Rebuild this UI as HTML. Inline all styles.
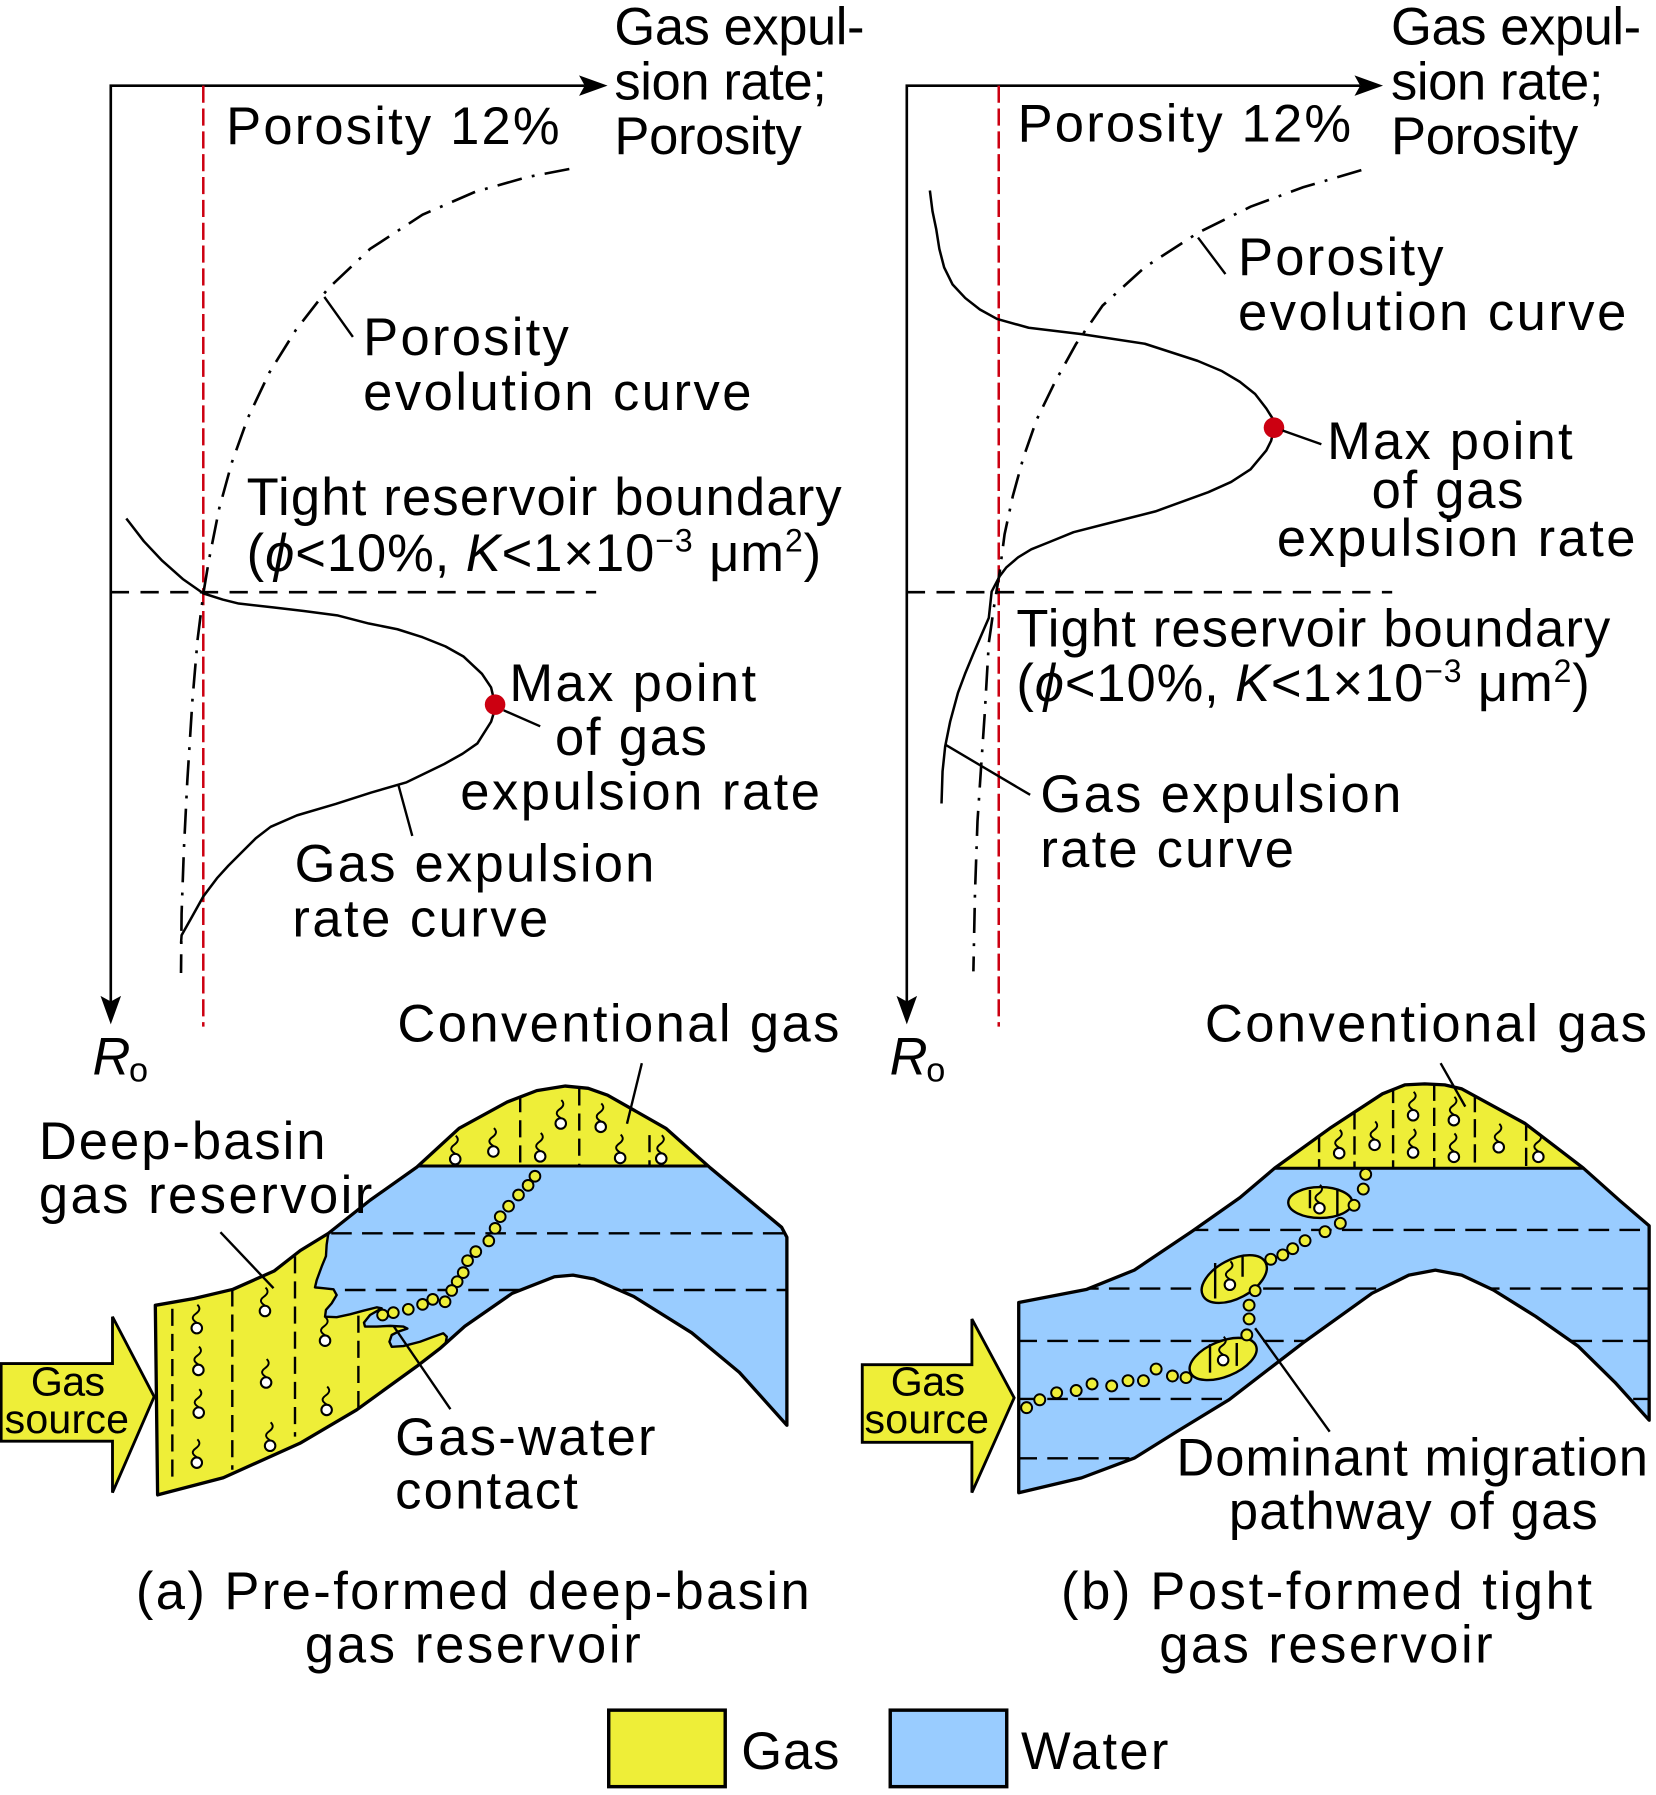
<!DOCTYPE html>
<html><head><meta charset="utf-8"><style>
html,body{margin:0;padding:0;background:#fff;}
svg{display:block;font-family:"Liberation Sans","DejaVu Sans",sans-serif;}
</style></head><body>
<svg width="1656" height="1795" viewBox="0 0 1450 1571.8" preserveAspectRatio="none" xmlns="http://www.w3.org/2000/svg" font-size="46" fill="#000">
<defs>
<clipPath id="ca"><path d="M136,1143 L170,1137 L204,1129 L240,1113 L263,1095 L287.5,1080 L324,1051 L365,1022 L402,988 L444,965 L470,955 L495,951 L515,953 L532,959 L583,988 L622,1022.7 L684.4,1074.7 L689,1083.4 L689,1248 L647.4,1201.7 L605.7,1167.1 L554.9,1135.3 L520,1120 L501.7,1116.6 L485.5,1118 L448.5,1132.5 L407,1161.3 L385,1181 L364.7,1196.6 L312.2,1234.6 L262.6,1263.8 L195.5,1294 L138,1309 Z"/></clipPath>
<clipPath id="cb"><path d="M892,1140.5 L951.6,1129 L993.2,1112.2 L1044,1078 L1085.7,1048.7 L1116,1023 L1164.3,988.1 L1210.5,957.8 L1230,950 L1247.5,949.1 L1265,950 L1280,953.5 L1335.4,983.8 L1386.2,1022.7 L1418.6,1051.6 L1444,1073.3 L1444,1243.6 L1414,1210.4 L1381.6,1178.6 L1344.6,1152.7 L1307.6,1129.6 L1279.9,1116.6 L1256.8,1112.2 L1233.6,1116.6 L1201.3,1132.5 L1141,1175.8 L1076.4,1225.5 L1030.2,1253.7 L993.2,1276.8 L947,1294.1 L892,1307.1 Z"/></clipPath>
<g id="sym"><path d="M0,-4.8 C-4.5,-7.5 -4.5,-10 -1,-12.5 C2.5,-15 3.5,-17.5 0.5,-20.5" fill="none" stroke="#000" stroke-width="1.7"/><circle r="4.6" fill="#fff" stroke="#000" stroke-width="1.8"/></g>
</defs>

<!-- ===== Panel (a) graph ===== -->
<path d="M97,877 V75 H512" fill="none" stroke="#000" stroke-width="2.3"/>
<polygon points="532,75 507,66 512,75 507,84" fill="#000"/>
<polygon points="97,897 88,872 97,877 106,872" fill="#000"/>
<line x1="178" y1="75" x2="178" y2="899" stroke="#CC0011" stroke-width="2.2" stroke-dasharray="15,5"/>
<line x1="97" y1="518.5" x2="522" y2="518.5" stroke="#000" stroke-width="2.3" stroke-dasharray="16,10"/>
<polyline fill="none" stroke="#000" stroke-width="2.3" stroke-dasharray="22,9,2.5,9" points="498.5,148 462,155 416,168 370,188 324,218 287,253 259,289 236,326 217,366 203,405 192,445 183,490 178,520 173,560 168.5,613 164,684 161,744 159,800 158.5,852"/>
<polyline fill="none" stroke="#000" stroke-width="2.2" stroke-linejoin="round" points="110.6,454 126,474 142,491 160,507 178,519.6 195,525 209,528.5 240,532 266,535 296,539 323,546 348,551 370,558 390,566 406,575 422,590 430,602 434,619 430,632 418,651 405,660 389,669 356,685 325,694 294,704 260,714 237,724 224,734 214,744 200,758 190,769 178,785 168,803 159,819 158.5,826"/>
<circle cx="433.5" cy="617" r="9" fill="#CC0011"/>
<g stroke="#000" stroke-width="2.1" fill="none">
<line x1="284" y1="260" x2="309" y2="295"/>
<line x1="441" y1="622" x2="473" y2="636"/>
<line x1="349" y1="688" x2="361" y2="732"/>
</g>

<!-- ===== Panel (b) graph ===== -->
<path d="M794,877 V75 H1191" fill="none" stroke="#000" stroke-width="2.3"/>
<polygon points="1211,75 1186,66 1191,75 1186,84" fill="#000"/>
<polygon points="794,897 785,872 794,877 803,872" fill="#000"/>
<line x1="874.5" y1="75" x2="874.5" y2="899" stroke="#CC0011" stroke-width="2.2" stroke-dasharray="15,5"/>
<line x1="794" y1="518.5" x2="1219" y2="518.5" stroke="#000" stroke-width="2.3" stroke-dasharray="16,10"/>
<polyline fill="none" stroke="#000" stroke-width="2.3" stroke-dasharray="22,9,2.5,9" points="1192,149 1141,164 1095,181 1048.7,204 1002.4,234 965.4,267.6 942.3,301 923.8,334.4 907.6,367.7 896,401 886.8,434.5 879.6,467.9 875.3,501 870.3,531.6 865.8,563 862.2,625.4 859,672.3 855.9,719.2 853.7,781.8 852.3,850.6"/>
<polyline fill="none" stroke="#000" stroke-width="2.2" stroke-linejoin="round" points="814.2,166.8 816.5,185 819.8,200.9 822.5,218 826.7,234.2 834,249 845.2,261 858,271 873,279.3 900.7,287 947,292.6 1002.4,301 1048.7,316 1070,325 1085.7,334.4 1099,345 1108.8,357.7 1114,366 1115.7,374.4 1113,386 1108.8,394.4 1095,411 1078,422 1058,431 1011.7,447.8 965.4,459.5 940,466 919.2,474.5 903,481 891.5,488 881,497 875.3,504.6 868.3,518 865.8,541 852.3,572.3 845,590 838.8,606.7 832,631.7 827.6,653.6 825.3,675.5 824.4,703.6"/>
<circle cx="1115.5" cy="374.5" r="9" fill="#CC0011"/>
<g stroke="#000" stroke-width="2.1" fill="none">
<line x1="1049" y1="208" x2="1073" y2="240"/>
<line x1="1123" y1="377" x2="1157" y2="389"/>
<line x1="827.6" y1="652" x2="902" y2="696"/>
</g>

<!-- ===== Panel (a) section ===== -->
<path d="M1,1194 H98.5 V1153 L135,1223 L98.5,1307 V1262 H1 Z" fill="#EEEE38" stroke="#000" stroke-width="2.5" stroke-linejoin="miter"/>
<g clip-path="url(#ca)">
<rect x="100" y="900" width="620" height="450" fill="#EEEE38"/>
<path d="M280,1021 L700,1021 L700,1320 L400,1320 L389.7,1179.3 L391.2,1170.5 L388.2,1167.5 L379.5,1170.5 L367.8,1174.9 L353.2,1178.7 L343,1179.3 L341,1174.9 L343,1169 L348.8,1166 L356.7,1163.4 L353.2,1161.6 L341.5,1161 L329.8,1161.6 L319.6,1161.6 L318.7,1158.2 L324,1151.5 L334.2,1145.6 L329.8,1144.8 L318.2,1147.7 L306.5,1150.9 L294.8,1153.4 L284.6,1153 L285.4,1147 L290.4,1141.3 L294.8,1134 L292,1129 L283,1128 L275.8,1127.3 L277.3,1121 L281.7,1109 L285.4,1100 L286,1090 L287.5,1080 L280,1060 Z" fill="#99CCFF"/>
<path d="M287.5,1080 L286,1090 L285.4,1100 L281.7,1109 L277.3,1121 L275.8,1127.3 L283,1128 L292,1129 L294.8,1134 L290.4,1141.3 L285.4,1147 L284.6,1153 L294.8,1153.4 L306.5,1150.9 L318.2,1147.7 L329.8,1144.8 L334.2,1145.6 L324,1151.5 L318.7,1158.2 L319.6,1161.6 L329.8,1161.6 L341.5,1161 L353.2,1161.6 L356.7,1163.4 L348.8,1166 L343,1169 L341,1174.9 L343,1179.3 L353.2,1178.7 L367.8,1174.9 L379.5,1170.5 L388.2,1167.5 L391.2,1170.5 L389.7,1179.3" fill="none" stroke="#000" stroke-width="2.1" stroke-linejoin="round"/>
<g stroke="#000" stroke-width="2.1" fill="none" stroke-dasharray="18,9">
<path d="M290,1080 H700"/>
<path d="M302,1129.6 H700"/>
</g>
<g stroke="#000" stroke-width="2.1" fill="none" stroke-dasharray="15,7">
<path d="M150.9,1146 V1297"/>
<path d="M203.4,1129 V1287"/>
<path d="M258.3,1100 V1258"/>
<path d="M313.8,1152 V1234"/>
<path d="M455.5,959 V1021"/>
<path d="M507.2,953 V1021"/>
<path d="M568.7,994 V1021"/>
</g>
<line x1="360" y1="1021" x2="630" y2="1021" stroke="#000" stroke-width="2.6"/>
</g>
<path d="M136,1143 L170,1137 L204,1129 L240,1113 L263,1095 L287.5,1080 L324,1051 L365,1022 L402,988 L444,965 L470,955 L495,951 L515,953 L532,959 L583,988 L622,1022.7 L684.4,1074.7 L689,1083.4 L689,1248 L647.4,1201.7 L605.7,1167.1 L554.9,1135.3 L520,1120 L501.7,1116.6 L485.5,1118 L448.5,1132.5 L407,1161.3 L385,1181 L364.7,1196.6 L312.2,1234.6 L262.6,1263.8 L195.5,1294 L138,1309 Z" fill="none" stroke="#000" stroke-width="2.9" stroke-linejoin="round"/>
<g>
<use href="#sym" x="172.3" y="1163"/><use href="#sym" x="232" y="1148"/><use href="#sym" x="284.6" y="1174"/>
<use href="#sym" x="173.7" y="1199.6"/><use href="#sym" x="233" y="1210.6"/><use href="#sym" x="174" y="1237"/>
<use href="#sym" x="286" y="1234.6"/><use href="#sym" x="236.5" y="1266"/><use href="#sym" x="172.3" y="1280.8"/>
<use href="#sym" x="398.6" y="1015"/><use href="#sym" x="432" y="1008.3"/><use href="#sym" x="473" y="1012.6"/>
<use href="#sym" x="491" y="983.8"/><use href="#sym" x="526" y="986.7"/><use href="#sym" x="543" y="1014"/><use href="#sym" x="579" y="1014.5"/>
</g>
<g fill="#EEEE38" stroke="#000" stroke-width="1.7">
<circle cx="468.4" cy="1030" r="4.7"/><circle cx="462.4" cy="1038" r="4.7"/><circle cx="454" cy="1046.4" r="4.7"/>
<circle cx="445.3" cy="1056.2" r="4.7"/><circle cx="438" cy="1065.4" r="4.7"/><circle cx="433.5" cy="1075.6" r="4.7"/>
<circle cx="428" cy="1086.6" r="4.7"/><circle cx="416.6" cy="1096" r="4.7"/><circle cx="409.4" cy="1103.9" r="4.7"/>
<circle cx="405.6" cy="1114.4" r="4.7"/><circle cx="400.3" cy="1122.3" r="4.7"/><circle cx="395.5" cy="1130" r="4.7"/>
<circle cx="389.7" cy="1139.9" r="4.7"/><circle cx="378.9" cy="1137.8" r="4.7"/><circle cx="370" cy="1142.2" r="4.7"/>
<circle cx="357.5" cy="1146.5" r="4.7"/><circle cx="344.4" cy="1149.4" r="4.7"/><circle cx="335" cy="1151.5" r="4.7"/>
</g>
<g stroke="#000" stroke-width="2.1" fill="none">
<line x1="562" y1="931" x2="549" y2="984"/>
<line x1="193" y1="1079" x2="239.5" y2="1128"/>
<line x1="344.5" y1="1161" x2="394.4" y2="1234"/>
</g>

<!-- ===== Panel (b) section ===== -->
<path d="M755,1195 H851 V1155 L888,1224 L851,1307 V1263 H755 Z" fill="#EEEE38" stroke="#000" stroke-width="2.5"/>
<g clip-path="url(#cb)">
<rect x="880" y="900" width="580" height="420" fill="#99CCFF"/>
<rect x="1090" y="900" width="370" height="123" fill="#EEEE38"/>
<g stroke="#000" stroke-width="2.1" fill="none" stroke-dasharray="18,9">
<path d="M1040,1077 H1450"/>
<path d="M890,1128.3 H1450"/>
<path d="M890,1174.2 H1450"/>
<path d="M890,1225 H1450"/>
<path d="M890,1277 H1450"/>
</g>
<g stroke="#000" stroke-width="2.1" fill="none" stroke-dasharray="16,6">
<path d="M1155,993 V1023"/>
<path d="M1186,973 V1023"/>
<path d="M1219.8,950 V1023"/>
<path d="M1255.8,948 V1023"/>
<path d="M1291.4,958 V1023"/>
<path d="M1336.3,983 V1023"/>
</g>
<line x1="1100" y1="1023" x2="1400" y2="1023" stroke="#000" stroke-width="2.6"/>
</g>
<path d="M892,1140.5 L951.6,1129 L993.2,1112.2 L1044,1078 L1085.7,1048.7 L1116,1023 L1164.3,988.1 L1210.5,957.8 L1230,950 L1247.5,949.1 L1265,950 L1280,953.5 L1335.4,983.8 L1386.2,1022.7 L1418.6,1051.6 L1444,1073.3 L1444,1243.6 L1414,1210.4 L1381.6,1178.6 L1344.6,1152.7 L1307.6,1129.6 L1279.9,1116.6 L1256.8,1112.2 L1233.6,1116.6 L1201.3,1132.5 L1141,1175.8 L1076.4,1225.5 L1030.2,1253.7 L993.2,1276.8 L947,1294.1 L892,1307.1 Z" fill="none" stroke="#000" stroke-width="2.9" stroke-linejoin="round"/>
<!-- pods -->
<g fill="#EEEE38" stroke="#000" stroke-width="2.1">
<ellipse cx="1156" cy="1053" rx="28" ry="13.5"/>
<ellipse cx="1080.7" cy="1120" rx="31" ry="17" transform="rotate(-28 1080.7 1120)"/>
<ellipse cx="1071" cy="1190" rx="31" ry="15.5" transform="rotate(-22 1071 1190)"/>
</g>
<path d="M1147,1042 V1058 M1171,1042 V1064 M1064,1106 V1137 M1088,1100 V1118 M1059.5,1177 V1202 M1082.9,1176 V1196" stroke="#000" stroke-width="2.1" fill="none"/>
<g>
<use href="#sym" x="1155.3" y="1058"/><use href="#sym" x="1076.9" y="1125"/><use href="#sym" x="1071" y="1191"/>
<use href="#sym" x="1172.6" y="1009.8"/><use href="#sym" x="1203.6" y="1002.5"/><use href="#sym" x="1237.3" y="976.6"/>
<use href="#sym" x="1237.3" y="1009.2"/><use href="#sym" x="1273" y="980.9"/><use href="#sym" x="1273" y="1013"/>
<use href="#sym" x="1312.3" y="1004.6"/><use href="#sym" x="1347" y="1013"/>
</g>
<g fill="#EEEE38" stroke="#000" stroke-width="1.7">
<circle cx="1195.8" cy="1028.3" r="4.8"/><circle cx="1193.7" cy="1041.2" r="4.8"/><circle cx="1185.6" cy="1055.4" r="4.8"/>
<circle cx="1173.6" cy="1071.2" r="4.8"/><circle cx="1160.2" cy="1078.5" r="4.8"/><circle cx="1142.7" cy="1086.4" r="4.8"/>
<circle cx="1131.9" cy="1093.4" r="4.8"/><circle cx="1123.2" cy="1098.9" r="4.8"/><circle cx="1112.7" cy="1102.7" r="4.8"/>
<circle cx="1099" cy="1130.2" r="4.8"/><circle cx="1093.7" cy="1142.9" r="4.8"/><circle cx="1093.7" cy="1154.9" r="4.8"/>
<circle cx="1091.7" cy="1168.9" r="4.8"/>
<circle cx="1038.5" cy="1206.3" r="4.8"/><circle cx="1026.6" cy="1204.9" r="4.8"/><circle cx="1012.3" cy="1198.8" r="4.8"/>
<circle cx="1001.2" cy="1209" r="4.8"/><circle cx="987.7" cy="1209" r="4.8"/><circle cx="973.4" cy="1213.6" r="4.8"/>
<circle cx="956.2" cy="1211.9" r="4.8"/><circle cx="942.3" cy="1217.6" r="4.8"/><circle cx="925.2" cy="1219.6" r="4.8"/>
<circle cx="910.4" cy="1225.7" r="4.8"/><circle cx="898.9" cy="1232.6" r="4.8"/>
</g>
<g stroke="#000" stroke-width="2.1" fill="none">
<line x1="1261.4" y1="931" x2="1283" y2="969"/>
<line x1="1099" y1="1163" x2="1164.3" y2="1253.7"/>
</g>

<!-- Legend -->
<rect x="533" y="1497.5" width="102" height="67" fill="#EEEE38" stroke="#000" stroke-width="3"/>
<rect x="779.5" y="1497.5" width="102" height="67" fill="#99CCFF" stroke="#000" stroke-width="3"/>

<!-- ===== Text (a) ===== -->
<text x="538" y="39" textLength="219" lengthAdjust="spacing">Gas expul-</text>
<text x="538" y="87" textLength="186" lengthAdjust="spacing">sion rate;</text>
<text x="538" y="135" textLength="164" lengthAdjust="spacing">Porosity</text>
<text x="198" y="126" textLength="292" lengthAdjust="spacing">Porosity 12%</text>
<text x="318" y="311" textLength="180" lengthAdjust="spacing">Porosity</text>
<text x="318" y="359" textLength="340" lengthAdjust="spacing">evolution curve</text>
<text x="216" y="451" textLength="521" lengthAdjust="spacing">Tight reservoir boundary</text>
<text x="216" y="500" textLength="503" lengthAdjust="spacing">(<tspan font-style="italic">ϕ</tspan>&lt;10%, <tspan font-style="italic">K</tspan>&lt;1×10<tspan dy="-17" font-size="28">−3</tspan><tspan dy="17"> μm</tspan><tspan dy="-17" font-size="28">2</tspan><tspan dy="17">)</tspan></text>
<text x="446" y="614" textLength="216" lengthAdjust="spacing">Max point</text>
<text x="486" y="661" textLength="133" lengthAdjust="spacing">of gas</text>
<text x="403" y="709" textLength="315" lengthAdjust="spacing">expulsion rate</text>
<text x="258" y="772" textLength="315" lengthAdjust="spacing">Gas expulsion</text>
<text x="256" y="820" textLength="224" lengthAdjust="spacing">rate curve</text>
<text x="81" y="941" font-style="italic">R</text>
<text x="113" y="947" font-size="30">o</text>
<text x="348" y="912" textLength="387" lengthAdjust="spacing">Conventional gas</text>
<text x="34" y="1015" textLength="251" lengthAdjust="spacing">Deep-basin</text>
<text x="34" y="1062" textLength="292" lengthAdjust="spacing">gas reservoir</text>
<text x="346" y="1274" textLength="228" lengthAdjust="spacing">Gas-water</text>
<text x="346" y="1321" textLength="160" lengthAdjust="spacing">contact</text>
<text x="27" y="1222" font-size="36" textLength="65" lengthAdjust="spacing">Gas</text>
<text x="4" y="1255" font-size="36" textLength="109" lengthAdjust="spacing">source</text>
<text x="119" y="1409" textLength="590" lengthAdjust="spacing">(a) Pre-formed deep-basin</text>
<text x="267" y="1456" textLength="294" lengthAdjust="spacing">gas reservoir</text>

<!-- ===== Text (b) ===== -->
<text x="1218" y="39" textLength="219" lengthAdjust="spacing">Gas expul-</text>
<text x="1218" y="87" textLength="186" lengthAdjust="spacing">sion rate;</text>
<text x="1218" y="135" textLength="164" lengthAdjust="spacing">Porosity</text>
<text x="891" y="124" textLength="292" lengthAdjust="spacing">Porosity 12%</text>
<text x="1084" y="241" textLength="180" lengthAdjust="spacing">Porosity</text>
<text x="1084" y="289" textLength="340" lengthAdjust="spacing">evolution curve</text>
<text x="1162" y="402" textLength="215" lengthAdjust="spacing">Max point</text>
<text x="1201" y="445" textLength="133" lengthAdjust="spacing">of gas</text>
<text x="1118" y="487" textLength="314" lengthAdjust="spacing">expulsion rate</text>
<text x="890" y="566" textLength="520" lengthAdjust="spacing">Tight reservoir boundary</text>
<text x="890" y="614" textLength="502" lengthAdjust="spacing">(<tspan font-style="italic">ϕ</tspan>&lt;10%, <tspan font-style="italic">K</tspan>&lt;1×10<tspan dy="-17" font-size="28">−3</tspan><tspan dy="17"> μm</tspan><tspan dy="-17" font-size="28">2</tspan><tspan dy="17">)</tspan></text>
<text x="911" y="711" textLength="316" lengthAdjust="spacing">Gas expulsion</text>
<text x="911" y="759" textLength="222" lengthAdjust="spacing">rate curve</text>
<text x="779" y="941" font-style="italic">R</text>
<text x="811" y="947" font-size="30">o</text>
<text x="1055" y="912" textLength="387" lengthAdjust="spacing">Conventional gas</text>
<text x="780" y="1222" font-size="36" textLength="65" lengthAdjust="spacing">Gas</text>
<text x="757" y="1255" font-size="36" textLength="109" lengthAdjust="spacing">source</text>
<text x="1030" y="1292" textLength="413" lengthAdjust="spacing">Dominant migration</text>
<text x="1076" y="1339" textLength="323" lengthAdjust="spacing">pathway of gas</text>
<text x="929" y="1409" textLength="465" lengthAdjust="spacing">(b) Post-formed tight</text>
<text x="1015" y="1456" textLength="292" lengthAdjust="spacing">gas reservoir</text>

<!-- Legend text -->
<text x="649" y="1549" textLength="86" lengthAdjust="spacing">Gas</text>
<text x="894" y="1549" textLength="129" lengthAdjust="spacing">Water</text>
</svg>
</body></html>
